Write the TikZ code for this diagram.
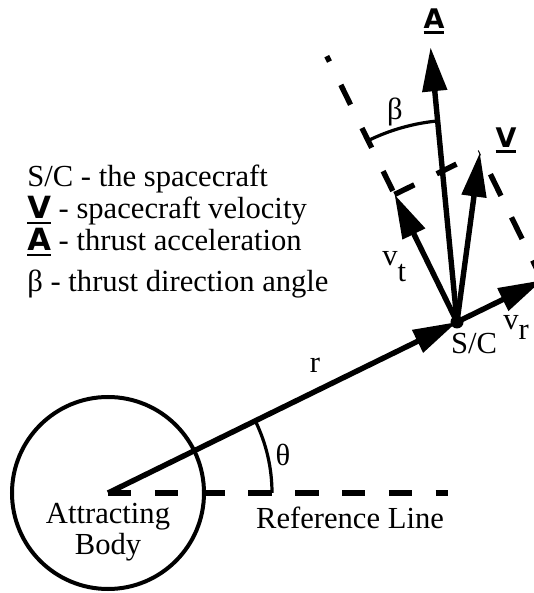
\documentclass[tikz,border=0pt]{standalone}
\usepackage{fontspec}
\setmainfont{Liberation Serif}
\newfontfamily\vecfont{DejaVu Sans}
\usetikzlibrary{arrows.meta,calc}

% underlined bold sans letter for a vector
\newcommand{\vecsym}[1]{\leavevmode\vtop{\hbox{\vecfont\bfseries #1}\kern1.4pt\hrule height 1.3pt}}
\newcommand{\lowidx}[2][-5pt]{\raisebox{#1}{#2}}

\begin{document}
\begin{tikzpicture}[x=0.5pt,y=0.5pt,
  vec/.style={line width=2.7pt, -{Triangle[length=22pt,width=12pt]}},
  guide/.style={line width=2.7pt, dash pattern=on 11.5pt off 12pt},
  anglearc/.style={line width=1.6pt},
  lbl/.style={font=\fontsize{15.3}{15.3}\selectfont, inner sep=0pt},
  veclbl/.style={font=\fontsize{13.5}{13.5}\selectfont, inner sep=0pt}]
  \useasboundingbox (0,0) rectangle (534,593);

  % geometry
  \coordinate (O) at (108,100);
  \coordinate (SC) at (457,271);
  \coordinate (RefEnd) at (448,100);
  \coordinate (VR) at ($(SC)+(26.1:95)$);
  \coordinate (VT) at ($(SC)+(116.1:142)$);
  \coordinate (V) at ($(VR)+(VT)-(SC)$);
  \coordinate (A) at ($(SC)+(95.5:276)$);
  \coordinate (GuideEnd) at ($(SC)+(116.1:296)$);

  % attracting body and reference line
  \node[circle, draw, line width=2pt, minimum size=96pt, inner sep=0pt] (body) at (O) {};
  \draw[guide, dash pattern=on 11.7pt off 11.7pt] (O) -- (RefEnd);
  \node[lbl, align=center] (bodylab) at (108,61) {Attracting\\Body};
  \node[lbl] (reflab) at (350,75) {Reference Line};

  % radius and angle theta
  \draw[vec] (O) -- (SC);
  \draw[anglearc] (O) ++(0:164) arc[start angle=0, end angle=26.1, radius=164];
  \node[lbl] (rlab) at (315,228) {r};
  \node[lbl] (thetalab) at (283,138) {θ};

  % construction lines
  \draw[guide, dash pattern=on 11pt off 13pt, dash phase=22pt] (VT) -- (GuideEnd);
  \draw[guide, dash pattern=on 11pt off 12.5pt] (VT) -- (V);
  \draw[guide, dash pattern=on 12pt off 12pt, dash phase=12pt] (V) -- (VR);

  % angle beta
  \draw[anglearc] (SC) ++(116.1:202) arc[start angle=116.1, end angle=95.5, radius=202];
  \node[lbl] (betalab) at (395,481) {β};

  % spacecraft vectors
  \draw[vec] (SC) -- (VR);
  \draw[vec] (SC) -- (VT);
  \draw[vec] (SC) -- (V);
  \draw[vec] (SC) -- (A);
  \node[circle, fill, inner sep=0pt, minimum size=6.5pt] (scdot) at (SC) {};
  \node[lbl] (sclab) at (474,249) {S/C};
  \node[lbl, anchor=base west] (vrlab) at (503,263) {v\lowidx{r}};
  \node[lbl, anchor=base west] (vtlab) at (382,327) {v\lowidx[-8pt]{t}};
  \node[veclbl] (Alab) at (434,572) {\vecsym{A}};
  \node[veclbl] (Vlab) at (506,453) {\vecsym{V}};

  % legend
  \node[lbl, anchor=base west] (leg1) at (27,406) {S/C - the spacecraft};
  \node[lbl, anchor=base west, text depth=0pt] (leg2) at (27,374) {\vecsym{V} - spacecraft velocity};
  \node[lbl, anchor=base west] (leg3) at (27,342) {\vecsym{A} - thrust acceleration};
  \node[lbl, anchor=base west] (leg4) at (27,301) {β - thrust direction angle};
\end{tikzpicture}
\end{document}
